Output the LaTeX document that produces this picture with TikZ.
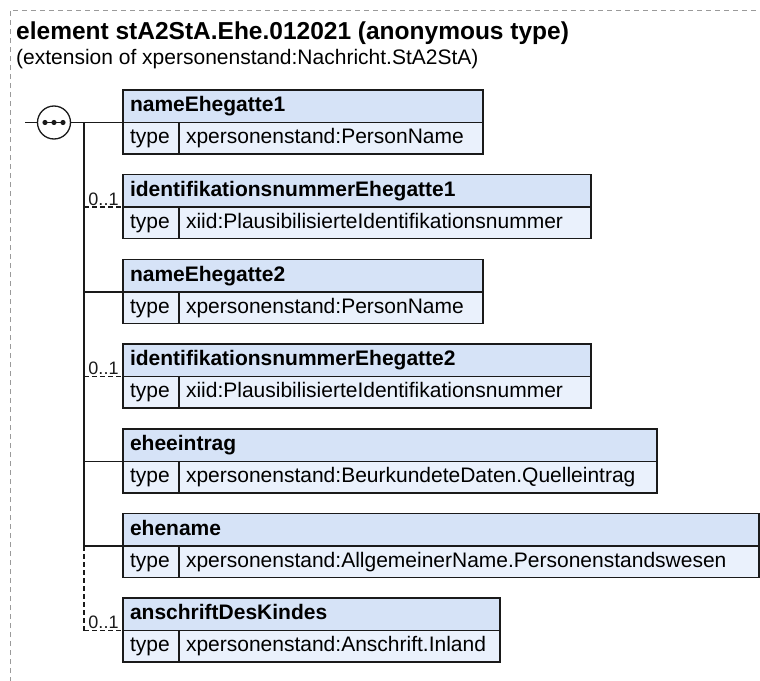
\documentclass[tikz,border=0pt]{standalone}
\usepackage{fontspec}
\setmainfont{Liberation Sans}
\usepackage{tikz}
\usetikzlibrary{positioning}
\definecolor{xsHead}{HTML}{D6E3F7}
\definecolor{xsRow}{HTML}{EAF1FC}
\definecolor{xsFrame}{HTML}{9A9A9A}
\definecolor{xsInk}{HTML}{1A1A1A}

\begin{document}
\begin{tikzpicture}[x=1pt,y=-1pt,
  hd/.style={draw=xsInk,fill=xsHead,line width=1.5pt,anchor=north west,outer sep=0pt,
             minimum height=32.5pt,inner xsep=7pt,inner ysep=0pt,text height=15.5pt,
             text depth=4.5pt,align=left,font=\fontsize{21}{25}\selectfont\bfseries},
  ky/.style={hd,fill=xsRow,minimum height=31.5pt,text width=42pt,font=\fontsize{21}{25}\selectfont},
  vl/.style={ky,text width=#1},
  sq/.style={circle,draw=xsInk,fill=white,line width=1.3pt,minimum size=33pt,inner sep=0pt},
  c/.style={xsInk,line width=1.5pt},
  o/.style={c,dash pattern=on 5pt off 3pt},
  occ/.style={above,inner sep=1pt,text=xsInk,font=\fontsize{18}{20}\selectfont}]
\useasboundingbox (0,0) rectangle (760,680);
\draw[xsFrame,line width=1pt,dash pattern=on 5pt off 4pt] (10,700) -- (10,10) -- (780,10);
\node[anchor=base west,inner sep=0pt,font=\fontsize{24.5}{29}\selectfont\bfseries] (ttl) at (16,39) {element stA2StA.Ehe.012021 (anonymous type)};
\node[anchor=base west,inner sep=0pt,font=\fontsize{21}{25}\selectfont] (sub) at (16,64) {(extension of xpersonenstand:Nachricht.StA2StA)};

\node[hd,text width=346pt] (h1) at (123,90)    {nameEhegatte1};
\node[ky] (k1) at (h1.south west) {type};
\node[vl=290pt] (v1) at (k1.north east) {xpersonenstand:PersonName};
\node[hd,text width=454pt] (h2) at (123,174.7) {identifikationsnummerEhegatte1};
\node[ky] (k2) at (h2.south west) {type};
\node[vl=398pt] (v2) at (k2.north east) {xiid:PlausibilisierteIdentifikationsnummer};
\node[hd,text width=346pt] (h3) at (123,259.4) {nameEhegatte2};
\node[ky] (k3) at (h3.south west) {type};
\node[vl=290pt] (v3) at (k3.north east) {xpersonenstand:PersonName};
\node[hd,text width=454pt] (h4) at (123,344.1) {identifikationsnummerEhegatte2};
\node[ky] (k4) at (h4.south west) {type};
\node[vl=398pt] (v4) at (k4.north east) {xiid:PlausibilisierteIdentifikationsnummer};
\node[hd,text width=520pt] (h5) at (123,428.8) {eheeintrag};
\node[ky] (k5) at (h5.south west) {type};
\node[vl=464pt] (v5) at (k5.north east) {xpersonenstand:BeurkundeteDaten.Quelleintrag};
\node[hd,text width=622pt] (h6) at (123,513.5) {ehename};
\node[ky] (k6) at (h6.south west) {type};
\node[vl=566pt] (v6) at (k6.north east) {xpersonenstand:AllgemeinerName.Personenstandswesen};
\node[hd,text width=363pt] (h7) at (123,598.2) {anschriftDesKindes};
\node[ky] (k7) at (h7.south west) {type};
\node[vl=307pt] (v7) at (k7.north east) {xpersonenstand:Anschrift.Inland};

\coordinate (in) at (25,122.5);
\coordinate (tr) at (84,122.5);
\node[sq] (seq) at (54,122.5) {};
\draw[c] (in) -- (seq);
\draw[c] (seq) -- (h1.south west);
\draw[xsInk,line width=1.2pt] ([xshift=-9pt]seq.center) -- ([xshift=9pt]seq.center);
\fill[xsInk] ([xshift=-9pt]seq.center) circle (2.6pt);
\fill[xsInk] (seq.center) circle (2.6pt);
\fill[xsInk] ([xshift=9pt]seq.center) circle (2.6pt);
\draw[c] (tr) -- (tr |- h6.south west);
\draw[o] (tr |- h6.south west) -- (tr |- h7.south west);
\draw[o] (tr |- h2.south west) -- node[occ]{0..1} (h2.south west);
\draw[c] (tr |- h3.south west) -- (h3.south west);
\draw[o] (tr |- h4.south west) -- node[occ]{0..1} (h4.south west);
\draw[c] (tr |- h5.south west) -- (h5.south west);
\draw[c] (tr |- h6.south west) -- (h6.south west);
\draw[o] (tr |- h7.south west) -- node[occ]{0..1} (h7.south west);
\end{tikzpicture}
\end{document}
